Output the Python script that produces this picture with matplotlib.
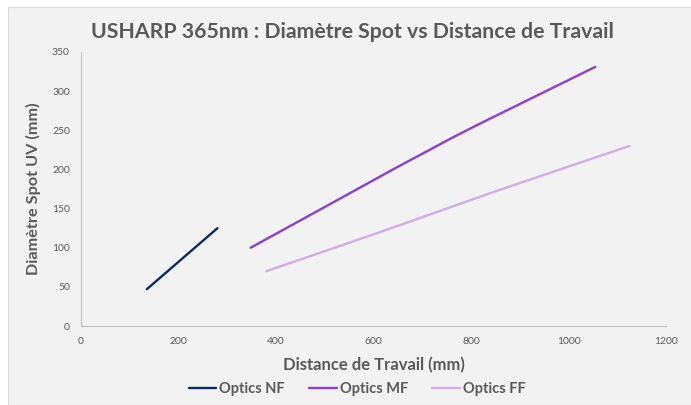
import matplotlib.pyplot as plt
from matplotlib.patches import Rectangle

# data
nf_x = [135, 280]
nf_y = [47, 125]
mf_x = [348, 500, 640, 760, 820, 1055]
mf_y = [100, 152, 200, 240, 259, 331]
ff_x = [380, 600, 850, 1125]
ff_y = [70, 117, 172, 230]

series = [
    ("Optics NF", nf_x, nf_y, "#0b2a63"),
    ("Optics MF", mf_x, mf_y, "#8c3fcc"),
    ("Optics FF", ff_x, ff_y, "#d2abeb"),
]

TXT = "#595959"
plt.rcParams['font.family'] = ['Lato', 'DejaVu Sans']

fig = plt.figure(figsize=(6.91, 4.05), dpi=100, facecolor="white")
W, H = 691, 405
fig.patches.append(Rectangle((8 / W, 0), 1, 1 - 7 / H, transform=fig.transFigure,
                             facecolor="#f2f2f2", edgecolor="#d9d9d9", lw=0.8, zorder=-10))

ax = fig.add_axes([81 / W, 1 - 326 / H, 585 / W, 274 / H])
ax.set_facecolor("none")

for name, xs, ys, col in series:
    ax.plot(xs, ys, color=col, lw=1.7, label=name, solid_capstyle="round")

ax.set_xlim(0, 1200)
ax.set_ylim(0, 350)
ax.set_xticks(range(0, 1201, 200))
ax.set_yticks(range(0, 351, 50))
for s in ["top", "right"]:
    ax.spines[s].set_visible(False)
for s in ["left", "bottom"]:
    ax.spines[s].set_color("#bfbfbf")
    ax.spines[s].set_linewidth(0.8)
ax.tick_params(length=0, labelsize=7.5, labelcolor=TXT, pad=8)

ax.set_xlabel("Distance de Travail (mm)", fontsize=12, fontweight="bold", color=TXT, labelpad=8)
ax.set_ylabel("Diamètre Spot UV (mm)", fontsize=11.7, fontweight="bold", color=TXT, labelpad=8)

fig.text(352 / W, 1 - 32 / H, "USHARP 365nm : Diamètre Spot vs Distance de Travail",
         ha="center", va="center", fontsize=15.3, fontweight="bold", color=TXT)

leg = fig.legend(loc="center", bbox_to_anchor=(357 / W, 1 - 389 / H), ncol=3, frameon=False,
                 handlelength=1.9, handletextpad=0.2, columnspacing=1.65,
                 prop={"weight": "bold", "size": 10.5})
for t in leg.get_texts():
    t.set_color(TXT)

fig.savefig("out.png", dpi=100, facecolor="white")
